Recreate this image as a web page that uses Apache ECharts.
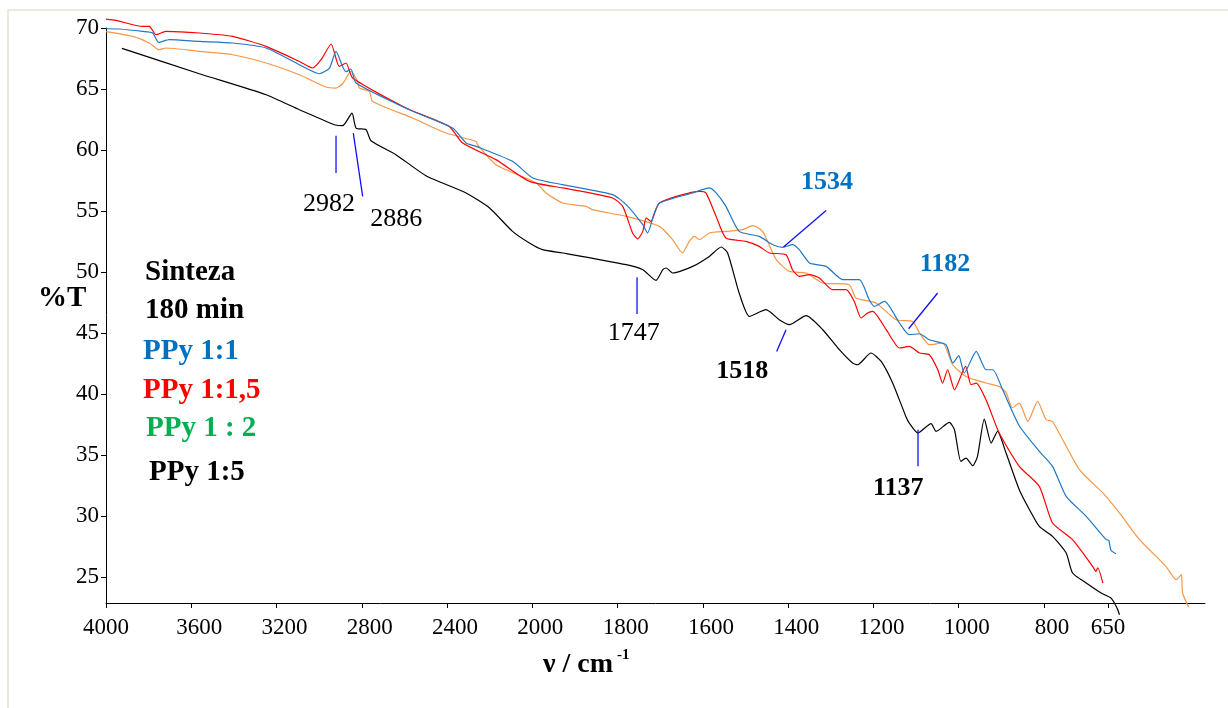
<!DOCTYPE html>
<html>
<head>
<meta charset="utf-8">
<script src="https://cdn.jsdelivr.net/npm/echarts@6/dist/echarts.min.js"></script>
<style>
html,body{margin:0;padding:0;background:#fff;}
#c{width:1228px;height:708px;}
</style>
</head>
<body>
<div id="c"></div>
<script>
// ---- data: [wavenumber cm-1, %T] ----
const ppy11 = [[4000,69.94],[3938,69.92],[3828,69.72],[3781,69.59],[3753,68.82],[3703,69.04],[3562,68.90],[3406,68.77],[3249,68.36],[3093,66.99],[2999,66.25],[2952,66.72],[2921,68.08],[2890,66.83],[2874,66.42],[2851,66.64],[2827,65.49],[2577,63.30],[2374,61.80],[2311,60.57],[2264,60.30],[2093,59.07],[1999,57.71],[1929,57.16],[1812,56.34],[1780,55.52],[1741,53.88],[1730,53.20],[1714,54.84],[1702,55.66],[1624,56.48],[1585,56.89],[1569,56.48],[1546,55.38],[1515,53.33],[1468,52.92],[1436,52.24],[1413,52.02],[1390,52.24],[1374,51.83],[1350,50.74],[1311,50.46],[1272,49.37],[1233,49.37],[1210,47.73],[1198,47.18],[1174,47.59],[1139,45.82],[1116,44.86],[1092,44.94],[1069,44.45],[1030,44.04],[1014,42.54],[1000,43.14],[987,41.72],[959,43.49],[936,41.99],[920,41.99],[897,40.35],[858,37.40],[811,35.30],[780,34.07],[748,31.61],[701,29.97],[654,28.06],[648,28.0],[643,27.2],[631,26.91]];
const ppy115 = [[4000,70.72],[3953,70.62],[3828,70.13],[3797,70.13],[3765,69.45],[3719,69.72],[3562,69.59],[3406,69.31],[3249,68.49],[3093,67.26],[3031,66.72],[2991,67.40],[2944,68.69],[2906,66.85],[2874,67.13],[2843,65.90],[2593,63.44],[2390,61.93],[2327,60.57],[2171,59.21],[2014,57.43],[1929,56.89],[1812,56.07],[1788,55.38],[1765,53.20],[1753,52.71],[1741,53.33],[1733,54.43],[1722,54.15],[1702,55.66],[1608,56.61],[1593,56.48],[1569,54.56],[1546,52.79],[1499,52.51],[1468,52.10],[1444,51.56],[1405,51.42],[1390,50.19],[1374,49.64],[1350,49.78],[1327,49.51],[1296,48.55],[1264,48.55],[1245,47.59],[1229,46.23],[1214,46.64],[1202,46.77],[1170,45.27],[1139,43.77],[1116,43.90],[1092,43.36],[1069,43.22],[1049,41.99],[1038,40.90],[1026,41.99],[1010,40.35],[984,42.26],[971,40.76],[959,40.90],[936,39.53],[905,36.80],[858,34.07],[811,32.43],[780,29.43],[733,28.06],[686,25.87],[678,25.46],[674,25.76],[662,24.51]];
const ppy12 = [[4000,69.70],[3875,69.31],[3797,68.77],[3750,68.22],[3719,68.36],[3562,68.08],[3406,67.81],[3249,67.13],[3093,66.17],[2968,65.16],[2921,65.08],[2890,65.43],[2851,66.44],[2820,65.62],[2812,65.08],[2765,64.80],[2749,63.98],[2562,62.62],[2405,61.39],[2264,60.70],[2257,60.43],[2171,58.80],[1991,57.30],[1968,56.48],[1929,55.66],[1874,55.38],[1859,55.11],[1780,54.56],[1702,53.74],[1671,52.65],[1648,51.56],[1632,52.51],[1620,52.92],[1608,52.65],[1585,53.20],[1546,53.33],[1507,53.47],[1483,53.80],[1460,53.33],[1428,51.01],[1397,50.05],[1358,49.92],[1319,49.10],[1257,48.96],[1241,47.87],[1194,47.46],[1147,46.09],[1108,45.95],[1092,45.00],[1069,44.04],[1038,44.18],[1014,42.40],[983,41.44],[936,40.90],[905,40.62],[889,40.11],[874,38.88],[858,39.26],[838,37.75],[815,39.39],[795,37.89],[780,37.75],[717,33.80],[662,31.89],[623,30.25],[576,28.06],[514,25.87],[490,24.78],[478,25.19],[475,23.69],[461,22.54]];
const ppy15 = [[3925,68.33],[3562,66.25],[3249,64.53],[3093,63.30],[2984,62.48],[2929,62.07],[2890,61.99],[2846,63.03],[2827,61.80],[2780,61.66],[2757,60.76],[2640,59.62],[2499,57.89],[2311,56.48],[2202,55.27],[2093,53.33],[2014,52.38],[1976,51.83],[1929,51.56],[1780,50.60],[1741,50.19],[1710,49.31],[1694,50.19],[1686,50.33],[1671,49.92],[1624,50.46],[1585,51.28],[1557,52.05],[1542,51.56],[1515,48.28],[1491,46.36],[1452,46.91],[1421,46.09],[1397,45.68],[1358,46.42],[1319,45.27],[1280,43.63],[1249,42.54],[1237,42.40],[1206,43.36],[1182,42.67],[1155,40.90],[1124,38.16],[1116,37.62],[1096,36.80],[1065,37.57],[1053,36.94],[1022,37.67],[1010,37.07],[995,34.48],[983,34.75],[967,34.12],[956,34.89],[940,37.95],[924,35.98],[909,36.94],[889,35.16],[858,32.16],[834,30.52],[811,29.15],[780,28.33],[748,26.97],[733,25.33],[701,24.51],[666,23.69],[643,23.28],[635,22.87],[627,22.32],[623,21.91]];

const xTickLabels = [4000,3600,3200,2800,2400,2000,1800,1600,1400,1200,1000,800,650];
const yTickLabels = [25,30,35,40,45,50,55,60,65,70];

const legendLines = ['Sinteza','180 min','PPy 1:1','PPy 1:1,5','PPy 1 : 2','PPy 1:5'];

// annotations: label, pointer line (w1,T1,w2,T2), label position (w,T)
const annoText = ['2982','2886','1747','1534','1518','1182','1137'];
const annoLine = [[2921,61.17,2921,58.12],[2840,61.39,2796,56.20],[1754.5,49.56,1754.5,46.56],[1311,55.05,1411,52.05],[1405,45.27,1427,43.49],[1049.5,48.28,1117.5,45.35],[1095.5,37.07,1095.5,34.07]];
const annoAt = [[2954,55.54],[2638,54.29],[1762.5,45.0],[1309,57.34],[1507.6,41.83],[1032,50.66],[1141.7,32.24]];

// ---- axis transform: 4000-2000 compressed, below 2000 expanded 2x ----
const toU = w => w >= 2000 ? (4000 - w) / 400 : 5 + (2000 - w) / 200;
const fromU = u => u <= 5 ? 4000 - 400 * u : 2000 - 200 * (u - 5);

const FF = '"Liberation Serif","Times New Roman",serif';
const annoStyle = [
  {c:'#000', b:'normal'},{c:'#000', b:'normal'},{c:'#000', b:'normal'},
  {c:'#0070C0', b:'bold'},{c:'#000', b:'bold'},{c:'#0070C0', b:'bold'},{c:'#000', b:'bold'}
];
const legendColors = ['#000','#000','#0070C0','#FF0000','#00B050','#000'];
const legendPos = [[145,273],[145,311],[143,352],[143,390.5],[146,429],[149,472.5]];

const chart = echarts.init(document.getElementById('c'), null, {renderer:'canvas'});

const mk = (name, data, color) => ({
  name, type:'line', data: data.map(([w,t]) => [toU(w), t]),
  showSymbol:false, symbol:'none', clip:false, smooth:0.2,
  lineStyle:{color, width:1.2}, itemStyle:{color}, z:3
});

const xVals = xTickLabels.map(toU);

const option = {
  backgroundColor:'#fff',
  animation:false,
  grid:{left:106, top:28, width:1099, height:575, containLabel:false, outerBoundsMode:'none'},
  xAxis:{
    type:'value', min:0, max:12.888,
    axisLine:{show:true, onZero:false, lineStyle:{color:'#000', width:1}},
    splitLine:{show:false},
    axisTick:{show:true, customValues:xVals, length:5, lineStyle:{color:'#000'}},
    axisLabel:{
      customValues:xVals, margin:13, color:'#000', fontFamily:FF, fontSize:23,
      formatter:(v) => {
        const w = Math.round(fromU(v));
        const i = xTickLabels.indexOf(w);
        return (i === 0 || i === xTickLabels.length - 1) ? '{n|' + w + '}' : '{r|' + w + '}';
      },
      rich:{
        n:{fontFamily:FF, fontSize:23, color:'#000'},
        r:{fontFamily:FF, fontSize:23, color:'#000', padding:[0,0,0,16]}
      }
    }
  },
  yAxis:{
    type:'value', min:22.87, max:70,
    axisLine:{show:true, onZero:false, lineStyle:{color:'#000', width:1}},
    splitLine:{show:false},
    axisTick:{show:true, customValues:yTickLabels, length:5, lineStyle:{color:'#000'}},
    axisLabel:{customValues:yTickLabels, margin:7, color:'#000', fontFamily:FF, fontSize:23}
  },
  series:[
    mk('PPy 1 : 2', ppy12, '#F79646'),
    mk('PPy 1:5', ppy15, '#000000'),
    mk('PPy 1:1,5', ppy115, '#FF0000'),
    mk('PPy 1:1', ppy11, '#1F78C4'),
    {
      type:'custom', clip:false, z:5, silent:true,
      data: annoLine.map((l, i) => [toU(l[0]), l[1], toU(l[2]), l[3], toU(annoAt[i][0]), annoAt[i][1], i]),
      encode:{x:[0,2,4], y:[1,3,5]},
      renderItem:(params, api) => {
        const i = api.value(6);
        const p1 = api.coord([api.value(0), api.value(1)]);
        const p2 = api.coord([api.value(2), api.value(3)]);
        const pt = api.coord([api.value(4), api.value(5)]);
        const s = annoStyle[i];
        return {type:'group', children:[
          {type:'line', shape:{x1:p1[0], y1:p1[1], x2:p2[0], y2:p2[1]}, style:{stroke:'#1010FF', lineWidth:1.3}},
          {type:'text', x:pt[0], y:pt[1], style:{text:annoText[i], font: s.b + ' 26px ' + FF, fill:s.c, align:'center', verticalAlign:'middle'}}
        ]};
      }
    }
  ],
  graphic:[
    {type:'rect', shape:{x:8, y:10, width:1240, height:720}, style:{fill:null, stroke:'#ebeadf', lineWidth:2}, z:0, silent:true},
    {type:'text', x:38, y:299, style:{text:'%T', font:'bold 29px ' + FF, fill:'#000', align:'left', verticalAlign:'middle'}},
    {type:'text', x:543, y:665, style:{text:'ν / cm', font:'bold 28px ' + FF, fill:'#000', align:'left', verticalAlign:'middle'}},
    {type:'text', x:617, y:655, style:{text:'-1', font:'bold 15px ' + FF, fill:'#000', align:'left', verticalAlign:'middle'}}
  ].concat(legendLines.map((t, i) => ({
    type:'text', x:legendPos[i][0], y:legendPos[i][1],
    style:{text:t, font:'bold 29px ' + FF, fill:legendColors[i], align:'left', verticalAlign:'middle'}
  })))
};
chart.setOption(option);
</script>
</body>
</html>
